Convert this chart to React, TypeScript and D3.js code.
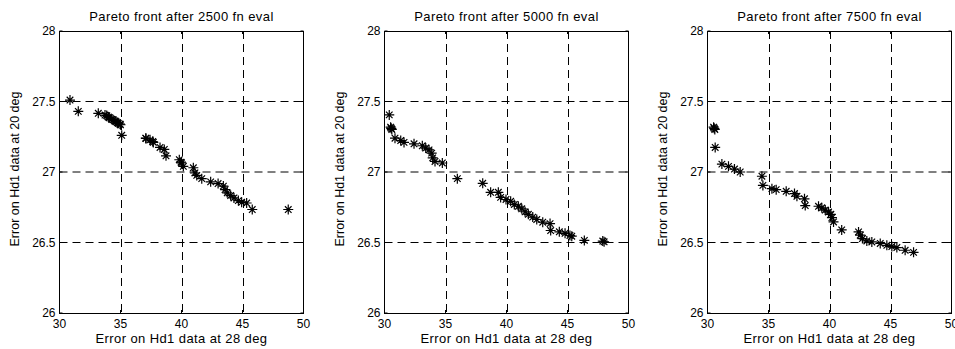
import React from "react";
import * as d3 from "d3";

// ---------- data ----------
const xDomain: [number, number] = [30, 50];
const yDomain: [number, number] = [26, 28];
const xTickValues = [30, 35, 40, 45, 50];
const yTickValues = [26, 26.5, 27, 27.5, 28];
const gridXValues = [35, 40, 45];
const gridYValues = [26.5, 27, 27.5];

const panelTitles = [
  "Pareto front after 2500 fn eval",
  "Pareto front after 5000 fn eval",
  "Pareto front after 7500 fn eval",
];
const xAxisLabel = "Error on Hd1 data at 28 deg";
const yAxisLabel = "Error on Hd1 data at 20 deg";

const front2500X = [
  30.86, 31.54, 33.18, 33.73, 33.87, 34.0, 34.08, 34.28, 34.4, 34.55, 34.63,
  34.74, 34.82, 34.96, 35.0, 35.1, 37.07, 37.09, 37.42, 37.64, 37.69, 38.24,
  38.59, 38.73, 39.82, 39.96, 40.0, 40.15, 40.97, 41.1, 41.25, 41.66, 42.39,
  43.0, 43.43, 43.57, 43.75, 44.03, 44.3, 44.66, 44.93, 45.34, 45.8, 48.75,
];
const front2500Y = [
  27.51, 27.43, 27.416, 27.404, 27.4, 27.39, 27.385, 27.374, 27.37, 27.362,
  27.357, 27.35, 27.345, 27.34, 27.335, 27.26, 27.24, 27.238, 27.228, 27.216,
  27.21, 27.174, 27.16, 27.115, 27.087, 27.07, 27.064, 27.04, 27.03, 26.993,
  26.976, 26.953, 26.93, 26.918, 26.9, 26.875, 26.852, 26.833, 26.816, 26.797,
  26.785, 26.78, 26.734, 26.734,
];

const front5000X = [
  30.39, 30.5, 30.55, 30.6, 30.86, 31.33, 31.6, 32.42, 33.1, 33.38, 33.65,
  33.87, 33.95, 34.14, 34.74, 35.97, 38.05, 38.7, 39.33, 39.52, 39.96, 40.34,
  40.64, 40.97, 41.25, 41.52, 41.79, 42.15, 42.48, 42.97, 43.57, 43.62, 44.33,
  44.8, 45.2, 45.35, 46.38, 47.89, 48.0,
];
const front5000Y = [
  27.405, 27.318, 27.31, 27.302, 27.24, 27.223, 27.21, 27.2, 27.186, 27.17,
  27.157, 27.134, 27.1, 27.075, 27.064, 26.953, 26.92, 26.856, 26.856, 26.82,
  26.805, 26.792, 26.77, 26.757, 26.739, 26.718, 26.7, 26.68, 26.663, 26.644,
  26.634, 26.585, 26.576, 26.565, 26.55, 26.545, 26.515, 26.51, 26.505,
];

const front7500X = [
  30.5, 30.55, 30.6, 30.63, 31.18, 31.72, 32.21, 32.68, 34.46, 34.54, 35.28,
  35.63, 36.45, 37.13, 37.33, 37.95, 38.01, 39.1, 39.37, 39.65, 39.92, 40.11,
  40.2, 40.33, 41.0, 42.38, 42.52, 42.7, 43.06, 43.47, 44.16, 44.7, 45.11,
  45.52, 46.2, 46.89,
];
const front7500Y = [
  27.318, 27.31, 27.302, 27.174, 27.056, 27.04, 27.021, 27.0, 26.97, 26.905,
  26.882, 26.875, 26.863, 26.847, 26.828, 26.81, 26.762, 26.757, 26.746, 26.73,
  26.716, 26.7, 26.677, 26.646, 26.589, 26.575, 26.552, 26.528, 26.511, 26.504,
  26.493, 26.48, 26.471, 26.464, 26.445, 26.43,
];

const seriesX = [front2500X, front5000X, front7500X];
const seriesY = [front2500Y, front5000Y, front7500Y];

// ---------- layout ----------
const WIDTH = 955;
const HEIGHT = 349;
const PANEL_LEFTS = [59.5, 384.5, 707.5];
const PANEL_W = 244;
const PANEL_TOP = 31;
const PANEL_H = 282;
const FONT = "'Liberation Sans', Arial, Helvetica, sans-serif";

function starPath(cx: number, cy: number): string {
  const r = 5;
  const d = 3.3;
  return (
    `M${cx - r},${cy}H${cx + r}` +
    `M${cx},${cy - r}V${cy + r}` +
    `M${cx - d},${cy - d}L${cx + d},${cy + d}` +
    `M${cx - d},${cy + d}L${cx + d},${cy - d}`
  );
}

function Panel({ index }: { index: number }) {
  const left = PANEL_LEFTS[index];
  const x = d3.scaleLinear().domain(xDomain).range([left, left + PANEL_W]);
  const y = d3.scaleLinear().domain(yDomain).range([PANEL_TOP + PANEL_H, PANEL_TOP]);
  const xs = seriesX[index];
  const ys = seriesY[index];
  const fmtY = (v: number) => (Number.isInteger(v) ? String(v) : v.toFixed(1));
  return (
    <g>
      {gridXValues.map((v) => (
        <line
          key={"gx" + v}
          x1={Math.round(x(v)) + 0.5}
          x2={Math.round(x(v)) + 0.5}
          y1={PANEL_TOP}
          y2={PANEL_TOP + PANEL_H}
          stroke="#000"
          strokeWidth={1}
          strokeDasharray="8,5"
        />
      ))}
      {gridYValues.map((v) => (
        <line
          key={"gy" + v}
          x1={left}
          x2={left + PANEL_W}
          y1={y(v)}
          y2={y(v)}
          stroke="#000"
          strokeWidth={1}
          strokeDasharray="8,5"
        />
      ))}
      <rect
        x={left}
        y={PANEL_TOP + 0.5}
        width={PANEL_W}
        height={PANEL_H}
        fill="none"
        stroke="#000"
        strokeWidth={1}
      />
      {xTickValues.map((v) => (
        <g key={"tx" + v}>
          <line x1={x(v)} x2={x(v)} y1={PANEL_TOP + PANEL_H} y2={PANEL_TOP + PANEL_H - 3} stroke="#000" />
          <line x1={x(v)} x2={x(v)} y1={PANEL_TOP} y2={PANEL_TOP + 3} stroke="#000" />
          <text
            x={x(v)}
            y={PANEL_TOP + PANEL_H + 11}
            textAnchor="middle"
            dominantBaseline="central"
            fontSize={12}
            fontFamily={FONT}
          >
            {v}
          </text>
        </g>
      ))}
      {yTickValues.map((v) => (
        <g key={"ty" + v}>
          <line x1={left} x2={left + 3} y1={y(v)} y2={y(v)} stroke="#000" />
          <line x1={left + PANEL_W} x2={left + PANEL_W - 3} y1={y(v)} y2={y(v)} stroke="#000" />
          <text
            x={left - 4}
            y={y(v)}
            textAnchor="end"
            dominantBaseline="central"
            fontSize={12}
            fontFamily={FONT}
          >
            {fmtY(v)}
          </text>
        </g>
      ))}
      {xs.map((xv, i) => (
        <path key={"m" + i} d={starPath(x(xv), y(ys[i]))} stroke="#000" strokeWidth={1.2} fill="none" />
      ))}
      <text
        x={left + PANEL_W / 2}
        y={16}
        textAnchor="middle"
        dominantBaseline="central"
        fontSize={13}
        letterSpacing={0.4}
        fontFamily={FONT}
      >
        {panelTitles[index]}
      </text>
      <text
        x={left + PANEL_W / 2}
        y={338.5}
        textAnchor="middle"
        dominantBaseline="central"
        fontSize={13}
        letterSpacing={0.4}
        fontFamily={FONT}
      >
        {xAxisLabel}
      </text>
      <text
        transform={`translate(${left - 45},${PANEL_TOP + PANEL_H / 2 - 3}) rotate(-90)`}
        textAnchor="middle"
        dominantBaseline="central"
        fontSize={12.5}
        fontFamily={FONT}
      >
        {yAxisLabel}
      </text>
    </g>
  );
}

export default function App() {
  return (
    <svg
      width={WIDTH}
      height={HEIGHT}
      style={{ position: "absolute", left: 0, top: 0, background: "#fff" }}
    >
      <rect x={0} y={0} width={WIDTH} height={HEIGHT} fill="#fff" />
      {[0, 1, 2].map((i) => (
        <Panel key={i} index={i} />
      ))}
    </svg>
  );
}
